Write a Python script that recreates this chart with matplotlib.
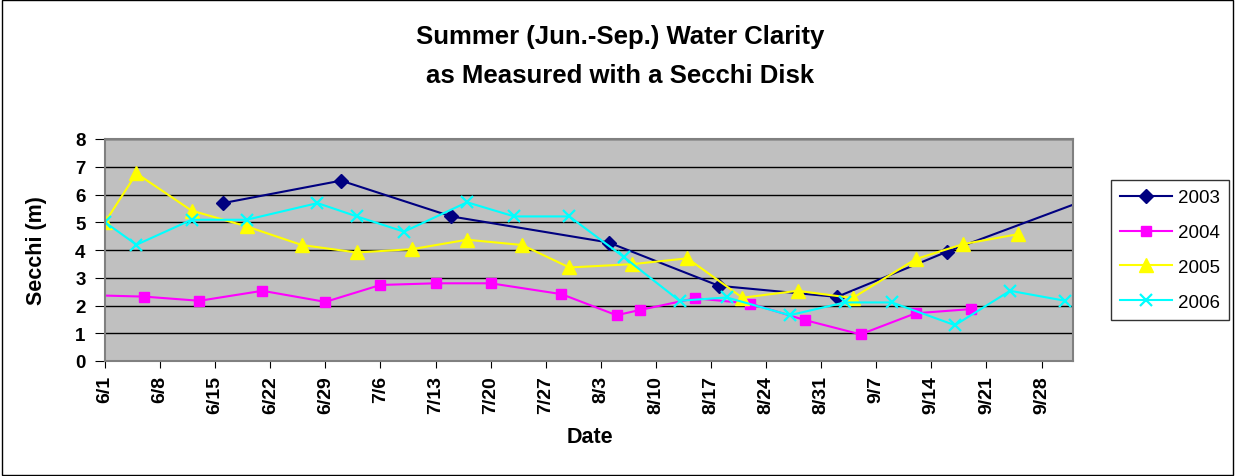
import matplotlib
matplotlib.use("Agg")
import matplotlib.pyplot as plt
import pandas as pd
from matplotlib.patches import Rectangle

plt.rcParams['font.family'] = ['Liberation Sans', 'DejaVu Sans']

# data (month/day, Secchi depth in m)
dates_2003 = ["6/16", "7/1", "7/15", "8/4", "8/18", "9/2", "9/16", "10/7"]
vals_2003 = [5.69, 6.5, 5.21, 4.27, 2.71, 2.31, 3.94, 6.16]

dates_2004 = ["5/29", "6/6", "6/13", "6/21", "6/29", "7/6", "7/13", "7/20", "7/29",
              "8/5", "8/8", "8/15", "8/22", "8/29", "9/5", "9/12", "9/19"]
vals_2004 = [2.38, 2.32, 2.17, 2.53, 2.13, 2.74, 2.80, 2.80, 2.41,
             1.65, 1.84, 2.26, 2.07, 1.47, 0.96, 1.72, 1.87]

dates_2005 = ["6/1", "6/5", "6/12", "6/19", "6/26", "7/3", "7/10", "7/17", "7/24",
              "7/30", "8/7", "8/14", "8/21", "8/28", "9/4", "9/12", "9/18", "9/25"]
vals_2005 = [5.0, 6.76, 5.42, 4.85, 4.18, 3.91, 4.03, 4.37, 4.18,
             3.37, 3.49, 3.70, 2.28, 2.53, 2.27, 3.67, 4.21, 4.57]

dates_2006 = ["6/1", "6/5", "6/12", "6/19", "6/28", "7/3", "7/9", "7/17", "7/23",
              "7/30", "8/6", "8/13", "8/19", "8/27", "9/3", "9/9", "9/17", "9/24", "10/1"]
vals_2006 = [5.0, 4.19, 5.09, 5.09, 5.69, 5.21, 4.66, 5.72, 5.21,
             5.21, 3.73, 2.17, 2.29, 1.65, 2.11, 2.11, 1.29, 2.53, 2.17]

series = [
    ("2003", dates_2003, vals_2003, "#000080", "D", 7),
    ("2004", dates_2004, vals_2004, "#FF00FF", "s", 7.5),
    ("2005", dates_2005, vals_2005, "#FFFF00", "^", 9.5),
    ("2006", dates_2006, vals_2006, "#00FFFF", "x", 9),
]


def to_dt(ds):
    return pd.to_datetime(["2005/" + d for d in ds], format="%Y/%m/%d")


fig = plt.figure(figsize=(12.35, 4.77), dpi=100)
ax = fig.add_axes([105 / 1235, 1 - 362 / 477, (1073 - 105) / 1235, (362 - 140) / 477])
ax.set_facecolor("#C0C0C0")

for name, ds, vs, col, mk, ms in series:
    ax.plot(to_dt(ds), vs, color=col, marker=mk, markersize=ms, lw=1.5,
            mew=1.6 if mk == "x" else 1, label=name)

ax.set_xlim(pd.Timestamp("2005-06-01"), pd.Timestamp("2005-10-02"))
ax.set_ylim(0, 8)
ax.set_yticks(range(0, 9))
ticks = pd.date_range("2005-06-01", "2005-09-28", freq="7D")
ax.set_xticks(ticks)
ax.set_xticklabels([f"{d.month}/{d.day}" for d in ticks], rotation=90,
                   fontsize=14, fontweight="bold")
for lab in ax.get_yticklabels():
    lab.set_fontsize(13.5)
    lab.set_fontweight("bold")
ax.grid(axis="y", color="black", lw=1)
ax.set_axisbelow(True)
ax.tick_params(axis="y", direction="out", length=7, color="black", pad=7)
ax.tick_params(axis="x", direction="out", length=5, color="black", pad=5)

for s in ["top", "right", "left", "bottom"]:
    ax.spines[s].set_color("#808080")
    ax.spines[s].set_linewidth(1.5)

ax.set_xlabel("Date", fontsize=15.5, fontweight="bold", va="center")
ax.xaxis.set_label_coords((590 - 105) / 968, (362 - 438) / 222)
ax.set_ylabel("Secchi (m)", fontsize=15.5, fontweight="bold")
ax.yaxis.set_label_coords((47 - 105) / 968, 0.5)

fig.text(620 / 1235, 1 - 37 / 477, "Summer (Jun.-Sep.) Water Clarity", ha="center", va="center",
         fontsize=18.5, fontweight="bold")
fig.text(620 / 1235, 1 - 76 / 477, "as Measured with a Secchi Disk", ha="center", va="center",
         fontsize=18.5, fontweight="bold")

leg = fig.legend(loc="center", bbox_to_anchor=(1170 / 1235, 1 - 251 / 477),
                 fontsize=13.5, frameon=True, fancybox=False, edgecolor="black",
                 handlelength=2.8, borderpad=0.5, labelspacing=0.95, handletextpad=0.3)
leg.get_frame().set_linewidth(1)

fig.patches.append(Rectangle((0.002, 0.002), 0.996, 0.996, transform=fig.transFigure,
                             fill=False, edgecolor="black", lw=1))

fig.savefig("out.png", dpi=100)
